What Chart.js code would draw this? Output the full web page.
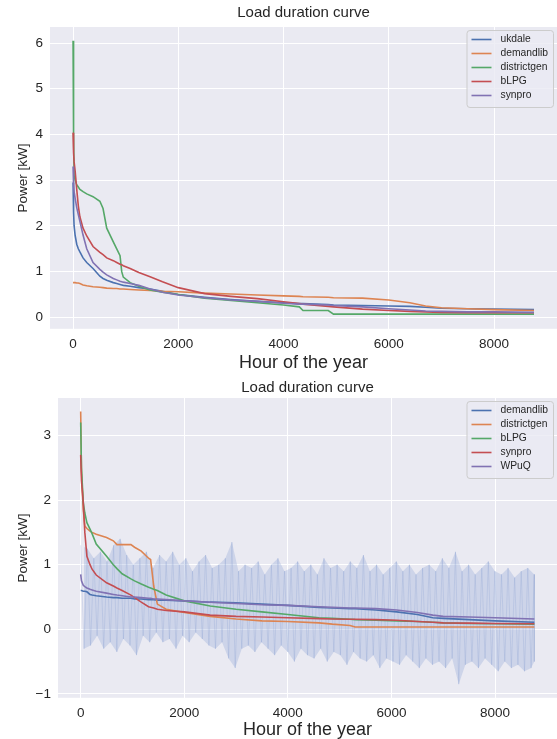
<!DOCTYPE html>
<html>
<head>
<meta charset="utf-8">
<script src="https://cdn.jsdelivr.net/npm/chart.js@4.4.0/dist/chart.umd.min.js"></script>
<style>
  html, body { margin: 0; padding: 0; background: #fff; }
  .panel { position: relative; width: 557px; }
</style>
</head>
<body>
<div class="panel" style="height:372px"><canvas id="ldcTop"></canvas></div>
<div class="panel" style="height:367px"><canvas id="ldcBottom"></canvas></div>
<script>
// shared axis ticks
const hourTicks = [0, 2000, 4000, 6000, 8000];
const kwTicksTop = [0, 1, 2, 3, 4, 5, 6];
const kwTicksBottom = [-1, 0, 1, 2, 3];

// upper panel: sorted hourly load per profile
const hoursTop = [0, 10, 20, 40, 70, 100, 130, 190, 260, 380, 510, 570, 640, 765, 830, 893, 925, 955, 1085, 1250,
  1464, 1700, 2000, 2500, 3000, 3500, 4000, 4300, 4370, 4850, 4950, 5500, 6000, 6400, 6700, 7000, 7500, 8000, 8760];
const ukdaleTop = [2.95, 2.3, 2.0, 1.79, 1.6, 1.5, 1.43, 1.3, 1.2, 1.07, 0.9, 0.85, 0.81, 0.76, 0.74, 0.72, 0.71, 0.7, 0.68, 0.65,
  0.62, 0.57, 0.5, 0.44, 0.39, 0.35, 0.32, 0.3, 0.3, 0.28, 0.27, 0.26, 0.25, 0.24, 0.22, 0.2, 0.19, 0.18, 0.17];
const demandlibTop = [0.76, 0.76, 0.76, 0.76, 0.75, 0.75, 0.74, 0.71, 0.69, 0.67, 0.66, 0.65, 0.64, 0.63, 0.63, 0.62, 0.62, 0.62, 0.61, 0.6,
  0.59, 0.57, 0.56, 0.53, 0.51, 0.49, 0.47, 0.46, 0.45, 0.44, 0.43, 0.42, 0.38, 0.32, 0.25, 0.21, 0.19, 0.17, 0.15];
const districtgenTop = [6.05, 4.0, 3.1, 3.0, 2.9, 2.85, 2.8, 2.75, 2.7, 2.64, 2.54, 2.38, 1.95, 1.65, 1.5, 1.35, 1.0, 0.88, 0.76, 0.68,
  0.6, 0.55, 0.5, 0.42, 0.37, 0.32, 0.27, 0.23, 0.15, 0.15, 0.07, 0.07, 0.07, 0.07, 0.07, 0.07, 0.07, 0.07, 0.07];
const blpgTop = [4.04, 3.6, 3.4, 3.2, 2.8, 2.44, 2.2, 1.95, 1.78, 1.55, 1.42, 1.37, 1.3, 1.24, 1.2, 1.16, 1.15, 1.13, 1.07, 0.98,
  0.89, 0.78, 0.65, 0.52, 0.46, 0.41, 0.34, 0.3, 0.29, 0.24, 0.23, 0.18, 0.15, 0.13, 0.12, 0.11, 0.1, 0.1, 0.1];
const synproTop = [3.3, 2.9, 2.75, 2.6, 2.4, 2.25, 2.1, 1.8, 1.5, 1.2, 1.05, 0.99, 0.93, 0.85, 0.82, 0.79, 0.78, 0.77, 0.74, 0.7,
  0.62, 0.55, 0.49, 0.43, 0.38, 0.35, 0.31, 0.29, 0.29, 0.27, 0.26, 0.23, 0.19, 0.16, 0.14, 0.13, 0.12, 0.12, 0.11];

// lower panel
const hoursBottom = [0, 15, 50, 80, 120, 180, 220, 300, 500, 630, 700, 800, 970, 1040, 1170, 1310, 1350, 1410, 1480, 1650,
  2000, 2500, 3000, 3500, 4000, 4600, 4860, 5200, 5300, 5700, 6100, 6500, 6800, 7000, 7500, 8000, 8760];
const demandlibBottom = [0.6, 0.6, 0.59, 0.59, 0.58, 0.54, 0.53, 0.52, 0.5, 0.49, 0.49, 0.48, 0.48, 0.47, 0.47, 0.46, 0.46, 0.46, 0.45, 0.45,
  0.44, 0.42, 0.41, 0.39, 0.37, 0.34, 0.33, 0.32, 0.32, 0.3, 0.27, 0.23, 0.18, 0.17, 0.15, 0.13, 0.11];
const districtgenBottom = [3.37, 2.45, 1.85, 1.6, 1.56, 1.52, 1.5, 1.47, 1.42, 1.37, 1.31, 1.31, 1.31, 1.27, 1.21, 1.1, 1.08, 0.67, 0.39, 0.31,
  0.26, 0.2, 0.16, 0.13, 0.12, 0.1, 0.08, 0.06, 0.036, 0.036, 0.036, 0.036, 0.036, 0.036, 0.036, 0.036, 0.036];
const blpgBottom = [3.2, 2.5, 1.96, 1.8, 1.65, 1.55, 1.48, 1.32, 1.13, 1.0, 0.94, 0.86, 0.78, 0.75, 0.7, 0.65, 0.64, 0.62, 0.6, 0.53,
  0.44, 0.36, 0.31, 0.27, 0.23, 0.18, 0.17, 0.155, 0.15, 0.14, 0.13, 0.12, 0.11, 0.1, 0.09, 0.085, 0.08];
const synproBottom = [2.7, 2.3, 1.96, 1.5, 1.13, 1.0, 0.93, 0.84, 0.72, 0.67, 0.64, 0.6, 0.53, 0.49, 0.42, 0.35, 0.34, 0.33, 0.31, 0.29,
  0.27, 0.22, 0.2, 0.19, 0.18, 0.165, 0.16, 0.155, 0.155, 0.15, 0.14, 0.12, 0.11, 0.1, 0.095, 0.09, 0.085];
const wpuqBottom = [0.85, 0.75, 0.68, 0.66, 0.64, 0.62, 0.61, 0.59, 0.56, 0.54, 0.53, 0.52, 0.5, 0.5, 0.49, 0.48, 0.48, 0.47, 0.47, 0.46,
  0.44, 0.42, 0.4, 0.38, 0.37, 0.35, 0.34, 0.33, 0.33, 0.32, 0.3, 0.26, 0.22, 0.2, 0.19, 0.18, 0.16];

// unsorted WPuQ hourly values behind the curves (peaks and troughs)
const bandHigh = [1.3, 1.25, 1.1, 1.2, 1.05, 1.3, 1.4, 1.15, 1.0, 1.1, 1.2, 0.95, 1.15, 1.05, 1.2, 1.0, 1.1, 0.9, 1.05, 1.15,
  0.95, 1.0, 1.1, 1.35, 0.9, 1.0, 0.95, 1.05, 0.85, 1.0, 1.1, 0.9, 0.95, 1.05, 0.9, 1.0, 0.85, 1.1, 0.95, 1.0,
  0.9, 1.05, 0.95, 1.15, 0.9, 1.0, 0.85, 0.95, 1.05, 0.9, 1.0, 0.85, 0.95, 1.0, 0.9, 1.1, 0.95, 1.2, 0.9, 1.0,
  0.85, 0.95, 1.05, 0.9, 0.85, 0.95, 0.8, 0.9, 0.95, 0.85];
const bandLow = [-0.3, -0.25, -0.1, -0.3, -0.2, -0.35, -0.15, -0.25, -0.4, -0.1, -0.2, -0.05, -0.2, -0.15, -0.3, -0.1, -0.2, -0.05, -0.15, -0.25,
  -0.3, -0.2, -0.45, -0.6, -0.3, -0.25, -0.35, -0.2, -0.3, -0.4, -0.25, -0.35, -0.5, -0.3, -0.4, -0.45, -0.3, -0.5, -0.35, -0.4,
  -0.55, -0.35, -0.45, -0.5, -0.4, -0.6, -0.45, -0.5, -0.55, -0.4, -0.5, -0.6, -0.45, -0.55, -0.5, -0.6, -0.45, -0.85, -0.55, -0.5,
  -0.6, -0.45, -0.55, -0.65, -0.5, -0.6, -0.55, -0.65, -0.6, -0.5];

const FONT = '"Liberation Sans", Arial, sans-serif';
const TEXT = '#262626';
const colors = { blue: '#4C72B0', orange: '#DD8452', green: '#55A868', red: '#C44E52', purple: '#8172B3' };
const bandColor = 'rgba(140,162,212,0.3)';

const pairs = (xs, ys) => xs.map((x, i) => ({ x: x, y: ys[i] }));

function curve(label, xs, ys, color) {
  return { label: label, data: pairs(xs, ys), borderColor: color, backgroundColor: color,
    borderWidth: 1.6, pointRadius: 0, tension: 0, fill: false };
}

// peaks sit on the sample hour, troughs half a step later
const bandStep = 8760 / (bandHigh.length - 1);
const peakPoints = bandHigh.map((v, i) => ({ x: i * bandStep, y: v }));
const troughPoints = bandLow.map((v, i) => ({ x: Math.min(i * bandStep + bandStep / 2, 8760), y: v }));
const zigzagPoints = peakPoints.flatMap((p, i) => [p, troughPoints[i]]);

// grey plotting area
const areaFill = {
  id: 'areaFill',
  beforeDraw(chart) {
    const { ctx, chartArea: a } = chart;
    ctx.save();
    ctx.fillStyle = '#EAEAF2';
    ctx.fillRect(a.left, a.top, a.right - a.left, a.bottom - a.top);
    ctx.restore();
  }
};

// framed legend in the upper right corner of the plot
const frameLegend = {
  id: 'frameLegend',
  afterDraw(chart) {
    const { ctx, chartArea: a } = chart;
    const items = chart.data.datasets.filter(d => d.label);
    ctx.save();
    ctx.font = '10.3px ' + FONT;
    const textW = Math.max(...items.map(d => ctx.measureText(d.label).width));
    const rowH = 14, handle = 20, gap = 9, pad = 5;
    const w = pad + handle + gap + textW + pad;
    const h = items.length * rowH + 7;
    const right = a.right - 4, top = a.top + 3, left = right - w;
    ctx.beginPath();
    ctx.roundRect(left + 0.5, top + 0.5, w, h, 3);
    ctx.fillStyle = 'rgba(234,234,242,0.8)';
    ctx.fill();
    ctx.strokeStyle = '#cccccc';
    ctx.lineWidth = 1;
    ctx.stroke();
    ctx.textBaseline = 'middle';
    items.forEach((d, i) => {
      const y = top + 2.5 + rowH / 2 + i * rowH;
      ctx.beginPath();
      ctx.moveTo(left + pad, y);
      ctx.lineTo(left + pad + handle, y);
      ctx.strokeStyle = d.borderColor;
      ctx.lineWidth = 1.6;
      ctx.stroke();
      ctx.fillStyle = TEXT;
      ctx.fillText(d.label, left + pad + handle + gap, y);
    });
    ctx.restore();
  }
};

function options(yMin, yMax, yTicks, yWidth, titlePad, xTitlePad) {
  return {
    responsive: true,
    maintainAspectRatio: false,
    animation: false,
    layout: { padding: 0 },
    plugins: {
      legend: { display: false },
      tooltip: { enabled: false },
      title: { display: true, text: 'Load duration curve', fullSize: false, color: TEXT,
        font: { family: FONT, size: 15, weight: 'normal', lineHeight: 1.2 }, padding: titlePad }
    },
    scales: {
      x: {
        type: 'linear', min: -438, max: 9197,
        afterBuildTicks: s => { s.ticks = hourTicks.map(v => ({ value: v })); },
        // tick padding is counted twice by the fit; keep it once
        afterFit: s => { s.height -= 7; },
        grid: { color: '#ffffff', lineWidth: 1, drawTicks: false },
        border: { display: false },
        ticks: { color: TEXT, padding: 7, maxRotation: 0, font: { family: FONT, size: 13.5 },
          callback: v => String(v) },
        title: { display: true, text: 'Hour of the year', color: TEXT, padding: { top: xTitlePad, bottom: 0 },
          font: { family: FONT, size: 18, lineHeight: 1 } }
      },
      y: {
        min: yMin, max: yMax,
        afterBuildTicks: s => { s.ticks = yTicks.map(v => ({ value: v })); },
        afterFit: s => { s.width = yWidth; },
        grid: { color: '#ffffff', lineWidth: 1, drawTicks: false },
        border: { display: false },
        ticks: { color: TEXT, padding: 7, font: { family: FONT, size: 13.5 },
          callback: v => String(v).replace('-', '\u2212') },
        title: { display: true, text: 'Power [kW]', color: TEXT, padding: { top: 15, bottom: 0 },
          font: { family: FONT, size: 13.5, lineHeight: 1.2 } }
      }
    }
  };
}

// later series sit on top, like the plotting order
function stack(sets) {
  sets.forEach((d, i) => { d.order = sets.length - i; });
  return sets;
}

new Chart(document.getElementById('ldcTop'), {
  type: 'line',
  data: {
    datasets: stack([
      curve('ukdale', hoursTop, ukdaleTop, colors.blue),
      curve('demandlib', hoursTop, demandlibTop, colors.orange),
      curve('districtgen', hoursTop, districtgenTop, colors.green),
      curve('bLPG', hoursTop, blpgTop, colors.red),
      curve('synpro', hoursTop, synproTop, colors.purple)
    ])
  },
  options: options(-0.25, 6.35, kwTicksTop, 50, { top: 4, bottom: 5 }, 2),
  plugins: [areaFill, frameLegend]
});

// raw hourly band: shaded between peaks and troughs, with the spikes on top
const bandSets = [
  { label: '', data: peakPoints, borderColor: 'rgba(0,0,0,0)', backgroundColor: bandColor,
    borderWidth: 0, pointRadius: 0, tension: 0, fill: '+1', order: 102 },
  { label: '', data: troughPoints, borderColor: 'rgba(0,0,0,0)', backgroundColor: bandColor,
    borderWidth: 0, pointRadius: 0, tension: 0, fill: false, order: 101 },
  { label: '', data: zigzagPoints, borderColor: 'rgba(130,155,208,0.25)', backgroundColor: bandColor,
    borderWidth: 1, pointRadius: 0, tension: 0, fill: false, order: 100 }
];

new Chart(document.getElementById('ldcBottom'), {
  type: 'line',
  data: {
    datasets: bandSets.concat(stack([
      curve('demandlib', hoursBottom, demandlibBottom, colors.blue),
      curve('districtgen', hoursBottom, districtgenBottom, colors.orange),
      curve('bLPG', hoursBottom, blpgBottom, colors.green),
      curve('synpro', hoursBottom, synproBottom, colors.red),
      curve('WPuQ', hoursBottom, wpuqBottom, colors.purple)
    ]))
  },
  options: options(-1.06, 3.58, kwTicksBottom, 58, { top: 7, bottom: 1 }, 0),
  plugins: [areaFill, frameLegend]
});
</script>
</body>
</html>
